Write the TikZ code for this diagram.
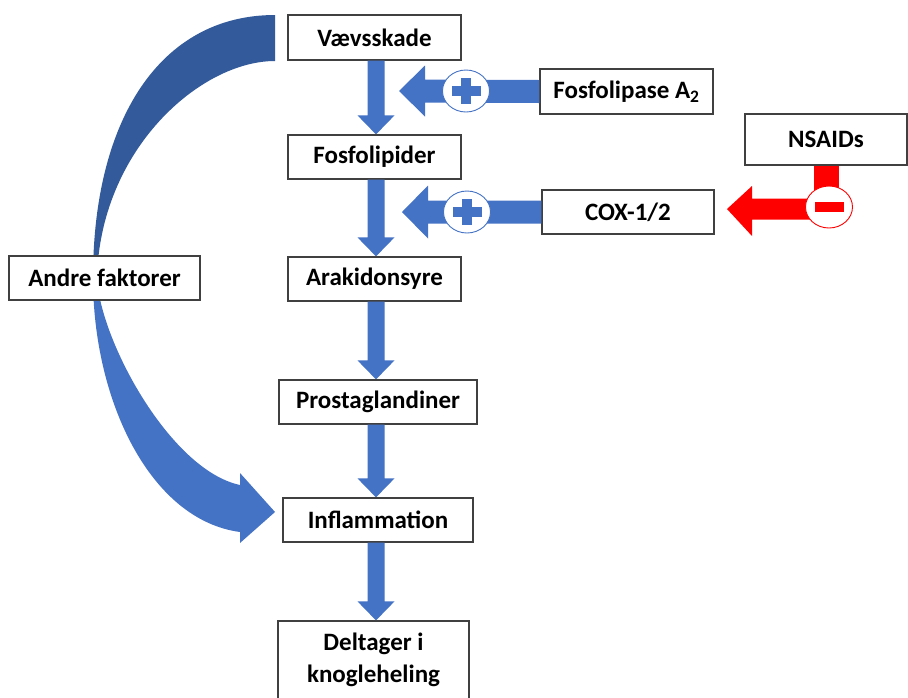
\documentclass[tikz,border=0pt]{standalone}
\usepackage{fontspec}
\setmainfont{Carlito}
\usetikzlibrary{calc,shapes.geometric}
\definecolor{blk}{HTML}{4472C4}
\definecolor{blkdark}{HTML}{335A9A}
\definecolor{boxline}{HTML}{404040}
\definecolor{redA}{HTML}{FF0000}
\newcommand\vblock[2]{%
  \path (376,0 |- #1.south) coordinate (vbA) (376,0 |- #2.north) coordinate (vbB);
  \fill[blk] ($(vbA)+(-8.5,0)$) -- ($(vbB)+(-8.5,-19)$) -- ($(vbB)+(-18.5,-19)$) -- (vbB)
    -- ($(vbB)+(18.5,-19)$) -- ($(vbB)+(8.5,-19)$) -- ($(vbA)+(8.5,0)$) -- cycle;}
\begin{document}
\begin{tikzpicture}[x=1pt,y=-1pt,
  box/.style={draw=boxline, line width=1.2pt, fill=white, inner sep=0pt,
    font=\fontsize{25}{32}\selectfont\bfseries, align=center},
  sign/.style={ellipse, line width=0.9pt, fill=white, minimum width=47, minimum height=42, inner sep=0pt}]
\useasboundingbox (0,0) rectangle (908,697);
% curved arrow (behind boxes)
\fill[blkdark] (275,15) .. controls (160,15) and (93,120) .. (93,278) -- (97,278)
  .. controls (100,150) and (200,61) .. (275,61) -- cycle;
\fill[blk] (93,278) .. controls (93,400) and (150,520) .. (240,532) -- (240,543) -- (275,512)
  -- (240,473) -- (240,485) .. controls (170,470) and (100,340) .. (97,278) -- cycle;
% boxes
\node[box, minimum width=173, minimum height=45] (vaev) at (374.5,37.5) {Vævsskade};
\node[box, minimum width=173, minimum height=45] (fosA) at (626.5,91.5) {Fosfolipase A\textsubscript{2}};
\node[box, minimum width=173, minimum height=44] (fosf) at (374.5,157) {Fosfolipider};
\node[box, minimum width=172, minimum height=44] (cox) at (628,212) {COX-1/2};
\node[box, minimum width=162, minimum height=51] (nsaid) at (826,139.5) {NSAIDs};
\node[box, minimum width=173, minimum height=44] (arak) at (374.5,279) {Arakidonsyre};
\node[box, minimum width=198, minimum height=44] (prost) at (378,402) {Prostaglandiner};
\node[box, minimum width=190, minimum height=44] (infl) at (378,520) {Inflammation};
\node[box, minimum width=191, minimum height=78] (delt) at (373.5,660) {Deltager i\\knogleheling};
\node[box, minimum width=191, minimum height=44] (andre) at (104.5,278) {Andre faktorer};
% vertical block arrows
\vblock{vaev}{fosf}
\vblock{fosf}{arak}
\vblock{arak}{prost}
\vblock{prost}{infl}
\vblock{infl}{delt}
% horizontal block arrows with plus signs
\coordinate (tipA) at (399,91);
\fill[blk] ($(fosA.west)+(0,-11.5)$) -- ($(tipA)+(26,-11.5)$) -- ($(tipA)+(26,-25.5)$) -- (tipA)
  -- ($(tipA)+(26,25.5)$) -- ($(tipA)+(26,11.5)$) -- ($(fosA.west)+(0,11.5)$) -- cycle;
\node[sign, draw=blk] (plusA) at (466,91) {};
\fill[blk] ($(plusA)+(-14.5,-5)$) rectangle ($(plusA)+(14.5,5)$);
\fill[blk] ($(plusA)+(-5,-13)$) rectangle ($(plusA)+(5,13)$);
\coordinate (tipB) at (402,212);
\fill[blk] ($(cox.west)+(0,-11.5)$) -- ($(tipB)+(26,-11.5)$) -- ($(tipB)+(26,-26.5)$) -- (tipB)
  -- ($(tipB)+(26,26.5)$) -- ($(tipB)+(26,11.5)$) -- ($(cox.west)+(0,11.5)$) -- cycle;
\node[sign, draw=blk] (plusB) at (467,212) {};
\fill[blk] ($(plusB)+(-14.5,-5)$) rectangle ($(plusB)+(14.5,5)$);
\fill[blk] ($(plusB)+(-5,-13)$) rectangle ($(plusB)+(5,13)$);
% NSAIDs inhibition
\coordinate (minusC) at (829,207);
\coordinate (tipR) at (727,209);
\fill[redA] ($(nsaid.south)+(-12,0)$) rectangle ($(minusC)+(10,0)$);
\fill[redA] (minusC |- 0,198.5) -- ($(tipR)+(25,-10.5)$) -- ($(tipR)+(25,-23)$) -- (tipR)
  -- ($(tipR)+(25,27)$) -- ($(tipR)+(25,10.5)$) -- (minusC |- 0,219.5) -- cycle;
\node[sign, draw=redA] (minus) at (minusC) {};
\fill[redA] ($(minus)+(-14.5,-5)$) rectangle ($(minus)+(14.5,5)$);
\end{tikzpicture}
\end{document}
